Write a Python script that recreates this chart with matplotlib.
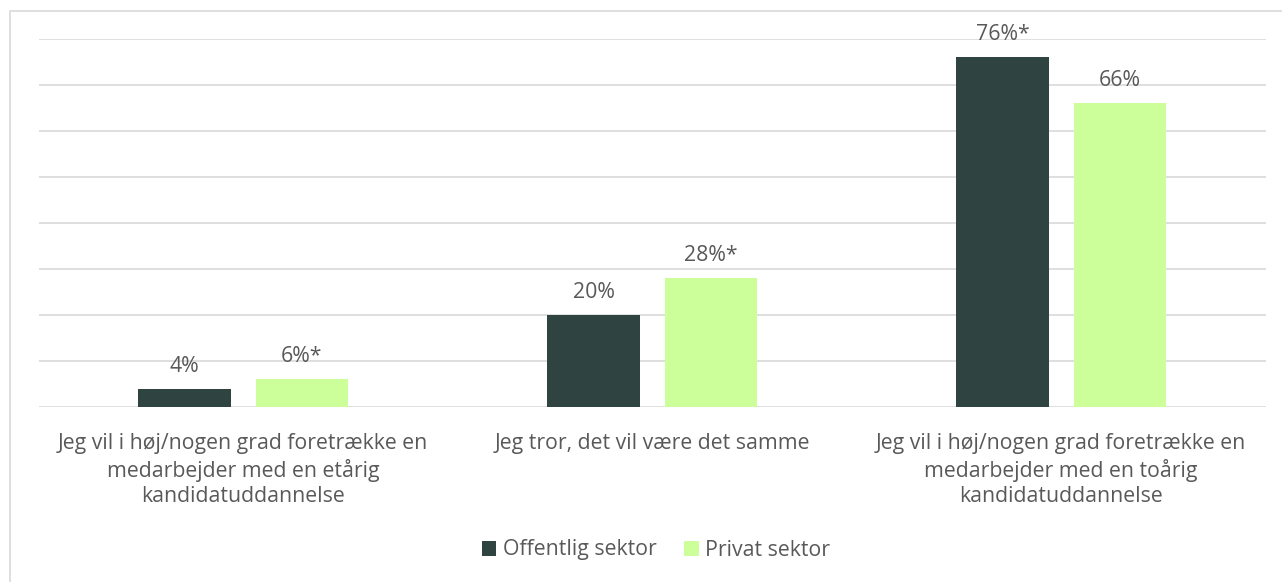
import matplotlib
matplotlib.use("Agg")
import matplotlib.pyplot as plt
from matplotlib.patches import Rectangle
import numpy as np

categories = [
    "Jeg vil i høj/nogen grad foretrække en\nmedarbejder med en etårig\nkandidatuddannelse",
    "Jeg tror, det vil være det samme",
    "Jeg vil i høj/nogen grad foretrække en\nmedarbejder med en toårig\nkandidatuddannelse",
]
series_names = ["Offentlig sektor", "Privat sektor"]
offentlig = [4, 20, 76]
privat = [6, 28, 66]
offentlig_labels = ["4%", "20%", "76%*"]
privat_labels = ["6%*", "28%*", "66%"]

DARK = "#2F4440"
LIGHT = "#CCFF99"
TXT = "#595959"
GRID = "#D9D9D9"
FS = 15.3

plt.rcParams['font.family'] = ['Open Sans', 'DejaVu Sans']

W, H = 1282, 582
fig = plt.figure(figsize=(W/100, H/100), dpi=100)
fig.patches.append(Rectangle((9.5/W, -0.1), 1.2, 1.1 - 10.5/H, transform=fig.transFigure,
                             fill=False, edgecolor=GRID, linewidth=1.2))
ax = fig.add_axes([38.6/W, 175/H, (1265.6-38.6)/W, (407-39)/H])

x = np.arange(len(categories))
bw = 0.2255
off = 0.1434
b1 = ax.bar(x - off, offentlig, bw, color=DARK, label=series_names[0], zorder=3)
b2 = ax.bar(x + off, privat, bw, color=LIGHT, label=series_names[1], zorder=3)

for bars, labs in ((b1, offentlig_labels), (b2, privat_labels)):
    for r, lab in zip(bars, labs):
        ax.annotate(lab, (r.get_x() + r.get_width()/2, r.get_height()),
                    xytext=(0, 17), textcoords="offset pixels", ha="center", va="baseline",
                    fontsize=FS, color=TXT)

ax.set_xlim(-0.5, 2.5)
ax.set_ylim(0, 80)
ax.set_yticks(np.arange(0, 81, 10))
ax.set_yticklabels([])
ax.tick_params(axis='both', length=0)
ax.yaxis.grid(True, color=GRID, linewidth=1.2, zorder=0)
for s in ax.spines.values():
    s.set_visible(False)
ax.set_xticks(x)
ax.set_xticklabels(categories, fontsize=FS, color=TXT, linespacing=1.24)
ax.tick_params(axis='x', pad=19)

fig.legend(handles=[b1, b2], labels=series_names, loc="center", bbox_to_anchor=(656/W, 1 - 550/H),
           ncol=2, frameon=False, fontsize=FS, labelcolor=TXT, handlelength=0.7, handleheight=0.7,
           handletextpad=0.3, columnspacing=1.3)

fig.savefig("out.png", dpi=100)
